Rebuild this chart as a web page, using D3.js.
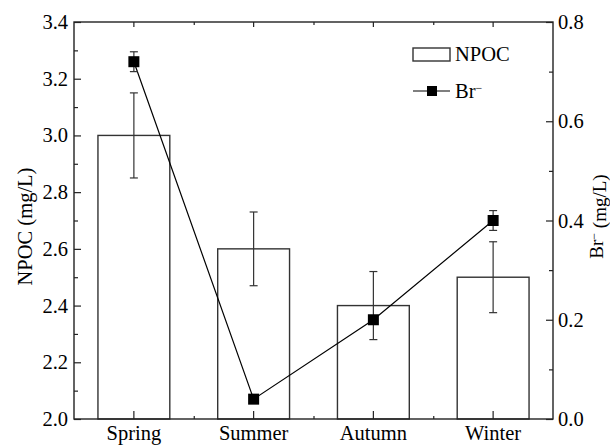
<!DOCTYPE html>
<html>
<head>
<meta charset="utf-8">
<script src="https://cdn.jsdelivr.net/npm/d3@7"></script>
<style>
  body { margin: 0; background: #fff; }
  svg text { font-family: "Liberation Serif", "Times New Roman", serif !important; fill: #000; }
</style>
</head>
<body>
<div id="chart"></div>
<script>
var seasons = ["Spring", "Summer", "Autumn", "Winter"];
var npoc = [3.0, 2.6, 2.4, 2.5];
var npocErr = [0.15, 0.13, 0.12, 0.125];
var br = [0.72, 0.04, 0.2, 0.4];
var brErr = [0.02, 0, 0, 0.02];
var leftTicks = [2.0, 2.2, 2.4, 2.6, 2.8, 3.0, 3.2, 3.4];
var leftMinor = [2.1, 2.3, 2.5, 2.7, 2.9, 3.1, 3.3];
var rightTicks = [0.0, 0.2, 0.4, 0.6, 0.8];
var rightMinor = [0.1, 0.3, 0.5, 0.7];

var width = 610, height = 445;
var margin = {top: 22, right: 57, bottom: 26, left: 74};
var chartW = width - margin.left - margin.right,
    chartH = height - margin.top - margin.bottom;

var svg = d3.select("#chart").append("svg")
    .attr("width", width)
    .attr("height", height)
    .attr("font-family", "Liberation Serif");

var g = svg.append("g")
    .attr("transform", "translate(" + margin.left + "," + margin.top + ")");

var x = d3.scaleBand()
    .domain(seasons)
    .range([0, chartW])
    .paddingInner(0.4)
    .paddingOuter(0.2);

var yL = d3.scaleLinear().domain([2.0, 3.4]).range([chartH, 0]);
var yR = d3.scaleLinear().domain([0, 0.8]).range([chartH, 0]);

var stroke = "#222";
var fs = 20.5;

// bars
g.selectAll(".bar")
  .data(seasons)
  .enter().append("rect")
  .attr("class", "bar")
  .attr("x", function(d) { return x(d); })
  .attr("y", function(d, i) { return yL(npoc[i]); })
  .attr("width", x.bandwidth())
  .attr("height", function(d, i) { return chartH - yL(npoc[i]); })
  .style("fill", "#fff")
  .style("stroke", "#333")
  .style("stroke-width", 1.4);

// error bars, indexed by season name (filter renumbers indices)
function errBars(cls, vals, errs, scale) {
  var eg = g.selectAll("." + cls)
    .data(seasons.filter(function(d, i) { return errs[i] > 0; }))
    .enter().append("g")
    .attr("class", cls)
    .attr("transform", function(d) { return "translate(" + (x(d) + x.bandwidth() / 2) + ",0)"; });
  var hi = function(d) { var i = seasons.indexOf(d); return scale(vals[i] + errs[i]); };
  var lo = function(d) { var i = seasons.indexOf(d); return scale(vals[i] - errs[i]); };
  eg.append("line").attr("y1", hi).attr("y2", lo);
  eg.append("line").attr("x1", -4).attr("x2", 4).attr("y1", hi).attr("y2", hi);
  eg.append("line").attr("x1", -4).attr("x2", 4).attr("y1", lo).attr("y2", lo);
  eg.selectAll("line").style("stroke", "#333").style("stroke-width", 1.2);
}
errBars("npoc-err", npoc, npocErr, yL);

// Br line
var line = d3.line()
    .x(function(d, i) { return x(seasons[i]) + x.bandwidth() / 2; })
    .y(function(d) { return yR(d); });

g.append("path")
  .datum(br)
  .attr("d", line)
  .style("fill", "none")
  .style("stroke", "#000")
  .style("stroke-width", 1.2);

errBars("br-err", br, brErr, yR);

g.selectAll(".marker")
  .data(br)
  .enter().append("rect")
  .attr("class", "marker")
  .attr("x", function(d, i) { return x(seasons[i]) + x.bandwidth() / 2 - 5.5; })
  .attr("y", function(d) { return yR(d) - 5.5; })
  .attr("width", 11)
  .attr("height", 11)
  .style("fill", "#000");

// frame
g.append("rect")
  .attr("width", chartW)
  .attr("height", chartH)
  .style("fill", "none")
  .style("stroke", stroke)
  .style("stroke-width", 1.4);

// axes
var bounds = seasons.slice(1).map(function(d) { return x(d) - x.step() * x.paddingInner() / 2; });
var bScale = d3.scaleLinear().domain([0, chartW]).range([0, chartW]);

var axL = g.append("g").call(d3.axisLeft(yL).tickValues(leftTicks).tickFormat(d3.format(".1f")).tickSizeInner(-7).tickSizeOuter(0).tickPadding(6));
var axLm = g.append("g").call(d3.axisLeft(yL).tickValues(leftMinor).tickFormat("").tickSizeInner(-4).tickSizeOuter(0));
var axR = g.append("g").attr("transform", "translate(" + chartW + ",0)")
  .call(d3.axisRight(yR).tickValues(rightTicks).tickFormat(d3.format(".1f")).tickSizeInner(-7).tickSizeOuter(0).tickPadding(5));
var axRm = g.append("g").attr("transform", "translate(" + chartW + ",0)")
  .call(d3.axisRight(yR).tickValues(rightMinor).tickFormat("").tickSizeInner(-4).tickSizeOuter(0));
var axB = g.append("g").attr("transform", "translate(0," + chartH + ")")
  .call(d3.axisBottom(x).tickSizeInner(-8).tickSizeOuter(0).tickPadding(6));
var axT = g.append("g")
  .call(d3.axisTop(x).tickFormat("").tickSizeInner(-5).tickSizeOuter(0));
var axBm = g.append("g").attr("transform", "translate(0," + chartH + ")")
  .call(d3.axisBottom(bScale).tickValues(bounds).tickFormat("").tickSizeInner(-3).tickSizeOuter(0));
var axTm = g.append("g")
  .call(d3.axisTop(bScale).tickValues(bounds).tickFormat("").tickSizeInner(-3).tickSizeOuter(0));

[axL, axLm, axR, axRm, axB, axT, axBm, axTm].forEach(function(a) {
  a.attr("font-family", "Liberation Serif").attr("font-size", fs);
  a.select(".domain").remove();
  a.selectAll("line").style("stroke", stroke).style("stroke-width", 1.2);
  a.selectAll("text").style("font-size", fs + "px").style("fill", "#000");
});

// axis titles
svg.append("text")
  .attr("transform", "translate(32," + (margin.top + chartH / 2 + 6) + ") rotate(-90)")
  .attr("text-anchor", "middle")
  .style("font-size", "20.5px")
  .text("NPOC (mg/L)");

var rt = svg.append("text")
  .attr("transform", "translate(603," + (margin.top + chartH / 2 - 4) + ") rotate(-90)")
  .attr("text-anchor", "middle")
  .style("font-size", "19px");
rt.append("tspan").text("Br");
rt.append("tspan").attr("dy", "-0.45em").style("font-size", "12px").text("\u2212");
rt.append("tspan").attr("dy", "0.45em").text(" (mg/L)");

// legend
var lg = svg.append("g").attr("transform", "translate(413,48)");
lg.append("rect")
  .attr("width", 37).attr("height", 13)
  .style("fill", "#fff").style("stroke", "#333").style("stroke-width", 1.4);
lg.append("text").attr("x", 42).attr("y", 13).style("font-size", fs + "px").text("NPOC");
lg.append("line")
  .attr("x1", 0).attr("x2", 37).attr("y1", 43).attr("y2", 43)
  .style("stroke", "#000").style("stroke-width", 1.2);
lg.append("rect")
  .attr("x", 14).attr("y", 38).attr("width", 10).attr("height", 10)
  .style("fill", "#000");
var lt = lg.append("text").attr("x", 42).attr("y", 50).style("font-size", fs + "px");
lt.append("tspan").text("Br");
lt.append("tspan").attr("dy", "-0.5em").style("font-size", "12px").text("\u2212");
</script>
</body>
</html>
